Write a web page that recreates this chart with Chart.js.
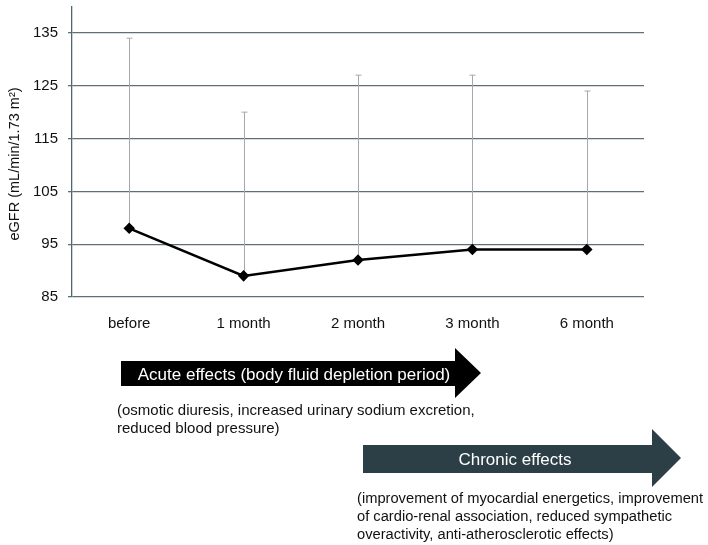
<!DOCTYPE html>
<html>
<head>
<meta charset="utf-8">
<script src="https://cdn.jsdelivr.net/npm/chart.js@4"></script>
<style>
  html, body { margin: 0; padding: 0; background: #fff; }
  #wrap { width: 708px; height: 545px; position: relative; }
</style>
</head>
<body>
<div id="wrap"><canvas id="chart" width="708" height="545"></canvas></div>
<script>
// data
var months = ['before', '1 month', '2 month', '3 month', '6 month'];
var egfrMean = [98, 89, 92, 94, 94];
var egfrUpper = [134, 120, 127, 127, 124];   // mean + SD
var yTicks = [85, 95, 105, 115, 125, 135];

var FONT = '"Liberation Sans", Arial, Helvetica, sans-serif';

// thin grey error bars above each point
var errorBars = {
    id: 'errorBars',
    beforeDatasetsDraw: function(chart) {
        var ctx = chart.ctx;
        var x = chart.scales.x, y = chart.scales.y;
        ctx.save();
        ctx.strokeStyle = '#a8a8a8';
        ctx.lineWidth = 1;
        egfrUpper.forEach(function(v, i) {
            var px = Math.round(x.getPixelForValue(i)) + 0.5;
            var top = y.getPixelForValue(v);
            var bot = y.getPixelForValue(egfrMean[i]);
            ctx.beginPath();
            ctx.moveTo(px, bot);
            ctx.lineTo(px, top);
            ctx.moveTo(px - 3, top);
            ctx.lineTo(px + 3, top);
            ctx.stroke();
        });
        ctx.restore();
    }
};

function arrow(ctx, x0, x1, xTip, yTop, yBot, headTop, headBot, color) {
    ctx.fillStyle = color;
    ctx.beginPath();
    ctx.moveTo(x0, yTop);
    ctx.lineTo(x1, yTop);
    ctx.lineTo(x1, headTop);
    ctx.lineTo(xTip, (headTop + headBot) / 2);
    ctx.lineTo(x1, headBot);
    ctx.lineTo(x1, yBot);
    ctx.lineTo(x0, yBot);
    ctx.closePath();
    ctx.fill();
}

// y title, the two effect arrows and their notes
var notes = {
    id: 'notes',
    afterDraw: function(chart) {
        var ctx = chart.ctx;
        ctx.save();
        ctx.translate(15, 164);
        ctx.rotate(-Math.PI / 2);
        ctx.fillStyle = '#111111';
        ctx.font = '14.5px ' + FONT;
        ctx.textAlign = 'center';
        ctx.textBaseline = 'middle';
        ctx.fillText('eGFR (mL/min/1.73 m\u00b2)', 0, 0);
        ctx.restore();

        ctx.save();
        arrow(ctx, 121, 455, 481, 361, 386, 348, 398, '#000000');
        arrow(ctx, 363, 652, 681, 445, 473, 429, 487, '#2c3f46');

        ctx.fillStyle = '#ffffff';
        ctx.font = '17px ' + FONT;
        ctx.textAlign = 'center';
        ctx.textBaseline = 'middle';
        ctx.fillText('Acute effects (body fluid depletion period)', 294, 375);
        ctx.fillText('Chronic effects', 515, 460);

        ctx.fillStyle = '#111111';
        ctx.textAlign = 'left';
        ctx.font = '15px ' + FONT;
        ctx.fillText('(osmotic diuresis, increased urinary sodium excretion,', 117, 411);
        ctx.fillText('reduced blood pressure)', 117, 429);
        ctx.font = '14.7px ' + FONT;
        ctx.fillText('(improvement of myocardial energetics, improvement', 357, 499);
        ctx.fillText('of cardio-renal association, reduced sympathetic', 357, 517);
        ctx.fillText('overactivity, anti-atherosclerotic effects)', 357, 535);
        ctx.restore();
    }
};

var ctx = document.getElementById('chart').getContext('2d');
var chart = new Chart(ctx, {
    type: 'line',
    data: {
        labels: months,
        datasets: [{
            label: 'eGFR',
            data: egfrMean,
            borderColor: '#000000',
            backgroundColor: '#000000',
            borderWidth: 2.5,
            pointStyle: 'rectRot',
            pointRadius: 4,
            pointHoverRadius: 4,
            tension: 0
        }]
    },
    options: {
        responsive: false,
        animation: false,
        devicePixelRatio: 1,
        layout: { padding: { top: -3, right: 64, bottom: 215, left: 0 } },
        plugins: {
            legend: { display: false },
            tooltip: { enabled: false }
        },
        scales: {
            x: {
                offset: true,
                grid: { display: false, drawTicks: false },
                border: { display: false },
                ticks: {
                    color: '#111',
                    font: { family: FONT, size: 15 },
                    padding: 18,
                    maxRotation: 0
                },
                afterFit: function(scale) { scale.height = 33; }
            },
            y: {
                min: 85,
                max: 140,
                afterBuildTicks: function(scale) {
                    scale.ticks = yTicks.map(function(v) { return { value: v }; });
                },
                grid: {
                    color: '#5f6f77',
                    lineWidth: 1.3,
                    tickLength: 4
                },
                border: { color: '#55656d', width: 1.3 },
                ticks: {
                    color: '#111',
                    font: { family: FONT, size: 15 },
                    padding: 10
                },
                afterFit: function(scale) {
                    scale.width = 72;
                    scale.paddingTop = 0;
                    scale.paddingBottom = 0;
                }
            }
        }
    },
    plugins: [errorBars, notes]
});
</script>
</body>
</html>
